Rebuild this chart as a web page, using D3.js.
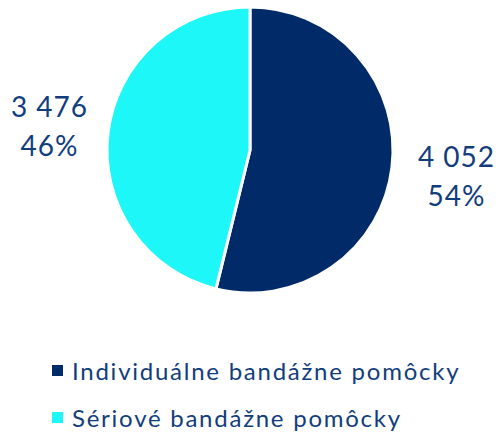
<!DOCTYPE html>
<html>
<head>
<meta charset="utf-8">
<script src="https://cdn.jsdelivr.net/npm/d3@7"></script>
<style>
  body { margin: 0; background: #fff; }
  svg { display: block; font-family: Lato, sans-serif; }
</style>
</head>
<body>
<svg id="chart"></svg>
<script>
const categories = ['Individuálne bandážne pomôcky', 'Sériové bandážne pomôcky'];
const values = [4052, 3476];
const colors = ['#002a68', '#1ef7f7'];

const width = 501;
const height = 438;
const cx = 250;
const cy = 150;
const radius = 143;
const textColor = '#123d7c';

const svg = d3.select('#chart')
  .attr('width', width)
  .attr('height', height)
  .attr('viewBox', [0, 0, width, height]);

const total = d3.sum(values);
const pie = d3.pie().sort(null).value((d) => d);
const arcs = pie(values);
const arc = d3.arc().innerRadius(0).outerRadius(radius);

const g = svg.append('g').attr('transform', `translate(${cx},${cy})`);

g.selectAll('path')
  .data(arcs)
  .join('path')
  .attr('d', arc)
  .attr('fill', (d, i) => colors[i])
  .attr('stroke', '#fff')
  .attr('stroke-width', 3);

// number format with space as thousands separator
const fmt = (v) => d3.format(',')(v).replace(/,/g, ' ');

// labels outside the slices
const labelArc = d3.arc().innerRadius(205).outerRadius(205);
const labels = g.selectAll('text.lbl')
  .data(arcs)
  .join('text')
  .attr('class', 'lbl')
  .attr('text-anchor', 'middle')
  .attr('fill', textColor)
  .attr('font-size', 28)
  .attr('letter-spacing', 1)
  .attr('transform', (d) => {
    const [x, y] = labelArc.centroid(d);
    return `translate(${x + 3},${y})`;
  });

labels.append('tspan')
  .attr('x', 0)
  .attr('y', -8)
  .text((d) => fmt(d.data));
labels.append('tspan')
  .attr('x', 0)
  .attr('y', 31)
  .text((d) => Math.round(d.data / total * 100) + '%');

// legend
const legend = svg.append('g')
  .attr('transform', 'translate(52,370)')
  .selectAll('g')
  .data(categories)
  .join('g')
  .attr('transform', (d, i) => `translate(0,${i * 47})`);

legend.append('rect')
  .attr('y', -5)
  .attr('width', 11)
  .attr('height', 11)
  .attr('fill', (d, i) => colors[i]);

legend.append('text')
  .attr('x', 20)
  .attr('y', 10)
  .attr('fill', textColor)
  .attr('font-size', 24)
  .attr('letter-spacing', 1.75)
  .text((d) => d);
</script>
</body>
</html>
